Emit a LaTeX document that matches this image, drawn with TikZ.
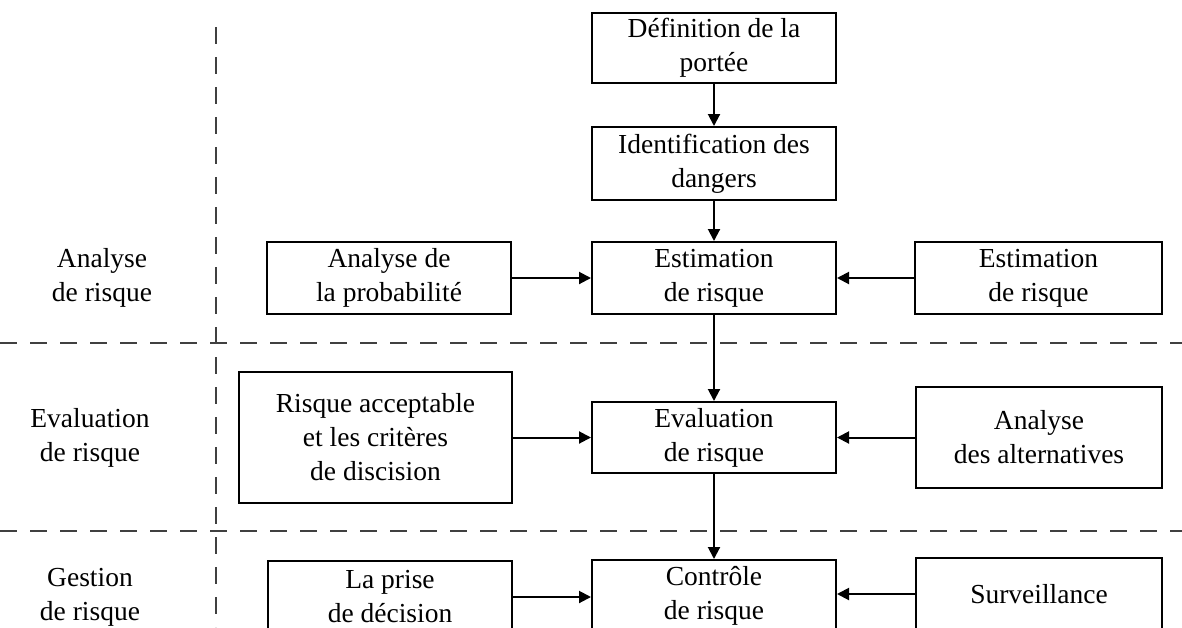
\documentclass[tikz,border=0pt]{standalone}
\usepackage{fontspec}
\setmainfont{Liberation Serif}
\usetikzlibrary{arrows.meta}
\begin{document}
\begin{tikzpicture}[x=1pt,y=-1pt,
  txt/.style={font=\fontsize{27.5}{34}\selectfont, align=center, inner sep=0pt},
  box/.style={txt, draw, line width=2pt, minimum width=244pt, minimum height=72pt},
  lbl/.style={txt},
  flow/.style={line width=2pt, -{Triangle[length=12pt,width=12pt]}},
  sep/.style={line width=2pt, draw=black!75, dash pattern=on 17pt off 13pt}
]
\clip (0,0) rectangle (1182,627);

% phase separators
\draw[sep] (216,27) -- (216,627);
\draw[sep] (0,343) -- (1182,343);
\draw[sep] (0,531) -- (1182,531);

% phase labels
\node[lbl] (lanalyse) at (102,278) {Analyse\\de risque};
\node[lbl] (leval) at (90,438) {Evaluation\\de risque};
\node[lbl] (lgestion) at (90,597) {Gestion\\de risque};

% central chain
\node[box, minimum height=70pt] (def) at (714,48) {Définition de la\\portée};
\node[box, minimum height=73pt] (ident) at (714,163.5) {Identification des\\dangers};
\node[box] (estc) at (714,278) {Estimation\\de risque};
\node[box, minimum height=71pt] (evalc) at (714,437.5) {Evaluation\\de risque};
\node[box] (ctrl) at (714,596) {Contrôle\\de risque};

% side inputs
\node[box] (prob) at (389,278) {Analyse de\\la probabilité};
\node[box, minimum width=247pt] (estr) at (1038.5,278) {Estimation\\de risque};
\node[box, minimum width=273pt, minimum height=131pt] (accept) at (375.5,437.5) {Risque acceptable\\et les critères\\de discision};
\node[box, minimum width=246pt, minimum height=101pt] (alt) at (1039,437.5) {Analyse\\des alternatives};
\node[box] (prise) at (390,597) {La prise\\de décision};
\node[box, minimum width=246pt] (surv) at (1039,594) {Surveillance};

% connectors
\draw[flow] (def) -- (ident);
\draw[flow] (ident) -- (estc);
\draw[flow] (estc) -- (evalc);
\draw[flow] (evalc) -- (ctrl);
\draw[flow] (prob) -- (estc);
\draw[flow] (estr) -- (estc);
\draw[flow] (accept) -- (evalc);
\draw[flow] (alt) -- (evalc);
\draw[flow] (prise.east) -- (prise.east -| ctrl.west);
\draw[flow] (surv.west) -- (surv.west -| ctrl.east);
\end{tikzpicture}
\end{document}
